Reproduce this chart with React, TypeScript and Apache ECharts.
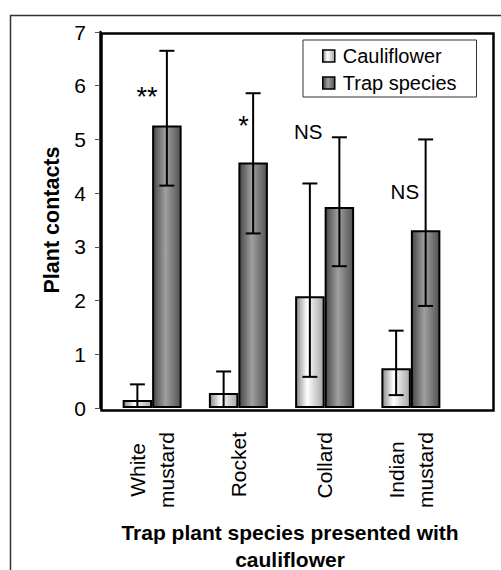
import React, { useEffect, useRef } from 'react';
import * as echarts from 'echarts';

const CATEGORIES = ['White\nmustard', 'Rocket', 'Collard', 'Indian\nmustard'];
const SERIES_NAMES = ['Cauliflower', 'Trap species'];
const CAULIFLOWER = [0.15, 0.28, 2.08, 0.74];
const CAULIFLOWER_UPPER = [0.44, 0.68, 4.18, 1.44];
const CAULIFLOWER_LOWER: (number | null)[] = [null, null, 0.58, 0.24];
const TRAP = [5.26, 4.57, 3.74, 3.31];
const TRAP_UPPER = [6.65, 5.86, 5.04, 5.0];
const TRAP_LOWER: (number | null)[] = [4.14, 3.25, 2.64, 1.9];
const SIG_LABELS = ['**', '*', 'NS', 'NS'];
const SIG_Y = [5.79, 5.25, 5.15, 4.03];
const Y_MIN = 0;
const Y_MAX = 7;
const Y_INTERVAL = 1;
const X_TITLE = 'Trap plant species presented with\ncauliflower';
const Y_TITLE = 'Plant contacts';

const FONT = '"Liberation Sans", Arial, Helvetica, sans-serif';
const BAR_W = 29.5;
const SIG_DX = [-0.06, 0.06, -0.19, -0.07];

const caulGrad = new echarts.graphic.LinearGradient(0, 0, 1, 0, [
  { offset: 0, color: '#8a8a8a' },
  { offset: 0.4, color: '#ffffff' },
  { offset: 1, color: '#a6a6a6' },
]);
const trapGrad = new echarts.graphic.LinearGradient(0, 0, 1, 0, [
  { offset: 0, color: '#474747' },
  { offset: 0.45, color: '#a0a0a0' },
  { offset: 1, color: '#525252' },
]);

function errorRenderer(upper: number[], lower: (number | null)[], side: number) {
  return (params: any, api: any) => {
    const idx = params.dataIndex;
    const i = api.value(0);
    const cx = api.coord([i, 0])[0] + side * (BAR_W / 2);
    const yTop = api.coord([i, upper[idx]])[1];
    const low = lower[idx];
    const yBot = api.coord([i, low == null ? 0 : low])[1];
    const style = { stroke: '#000', lineWidth: 2 };
    const children: any[] = [
      { type: 'line', shape: { x1: cx, y1: yTop, x2: cx, y2: yBot }, style },
      { type: 'line', shape: { x1: cx - 7.5, y1: yTop, x2: cx + 7.5, y2: yTop }, style },
    ];
    if (low != null) {
      children.push({ type: 'line', shape: { x1: cx - 7.5, y1: yBot, x2: cx + 7.5, y2: yBot }, style });
    }
    return { type: 'group', children };
  };
}

export default function App() {
  const ref = useRef<HTMLDivElement>(null);
  useEffect(() => {
    if (!ref.current) return;
    const chart = echarts.init(ref.current, null, { renderer: 'svg' });
    const option: any = {
      animation: false,
      backgroundColor: '#fff',
      textStyle: { fontFamily: FONT },
      grid: { left: 109, right: 47, top: 32, bottom: 162, containLabel: false, outerBoundsMode: 'none' },
      legend: {
        data: SERIES_NAMES,
        orient: 'vertical',
        left: 303,
        top: 40,
        icon: 'rect',
        itemWidth: 12,
        itemHeight: 12,
        itemGap: 7,
        padding: [6, 20, 4, 19],
        borderColor: '#333',
        borderWidth: 1,
        backgroundColor: '#fff',
        itemStyle: { borderColor: '#000', borderWidth: 1.5 },
        textStyle: { fontSize: 20, color: '#000', fontFamily: FONT, lineHeight: 20, padding: [0, 0, 0, 3] },
      },
      xAxis: {
        type: 'category',
        data: CATEGORIES,
        axisLine: { show: false },
        axisTick: { show: false },
        axisLabel: {
          rotate: 90,
          margin: 24,
          color: '#000',
          fontSize: 21,
          fontFamily: FONT,
          lineHeight: 29,
          formatter: (v: string) =>
            v.includes('\n') ? v.split('\n').map((s) => `{c|${s}}`).join('\n') : v,
          rich: { c: { width: 76, align: 'center', fontSize: 21, lineHeight: 29, fontFamily: FONT, color: '#000' } },
        },
        name: X_TITLE,
        nameLocation: 'middle',
        nameGap: 111,
        nameMoveOverlap: false,
        nameTextStyle: { fontSize: 21, fontWeight: 'bold', color: '#000', fontFamily: FONT, lineHeight: 27, padding: [0, 0, 0, 17] },
      },
      yAxis: {
        type: 'value',
        min: Y_MIN,
        max: Y_MAX,
        interval: Y_INTERVAL,
        offset: 9,
        axisLine: { show: true, lineStyle: { color: '#000', width: 2.5 } },
        axisTick: { show: true, length: 5, lineStyle: { color: '#555', width: 1 } },
        axisLabel: { fontSize: 21, margin: 14, color: '#000', fontFamily: FONT },
        splitLine: { show: false },
        name: Y_TITLE,
        nameLocation: 'middle',
        nameGap: 37,
        nameMoveOverlap: false,
        nameTextStyle: { fontSize: 21.5, fontWeight: 'bold', color: '#000', fontFamily: FONT },
      },
      series: [
        {
          name: SERIES_NAMES[0],
          type: 'bar',
          data: CAULIFLOWER,
          barWidth: BAR_W,
          barGap: '0%',
          itemStyle: { color: caulGrad, borderColor: '#000', borderWidth: 2 },
        },
        {
          name: SERIES_NAMES[1],
          type: 'bar',
          data: TRAP,
          barWidth: BAR_W,
          barGap: '0%',
          itemStyle: { color: trapGrad, borderColor: '#000', borderWidth: 2 },
        },
        {
          type: 'custom',
          name: 'errC',
          data: CAULIFLOWER.map((v, i) => [i, v]),
          renderItem: errorRenderer(CAULIFLOWER_UPPER, CAULIFLOWER_LOWER, -1),
          z: 5,
          silent: true,
        },
        {
          type: 'custom',
          name: 'errT',
          data: TRAP.map((v, i) => [i, v]),
          renderItem: errorRenderer(TRAP_UPPER, TRAP_LOWER, 1),
          z: 5,
          silent: true,
        },
        {
          type: 'custom',
          name: 'sig',
          data: SIG_Y.map((v, i) => [i, v]),
          z: 6,
          silent: true,
          renderItem: (params: any, api: any) => {
            const idx = params.dataIndex;
            const i = api.value(0);
            const w = api.size([1, 0])[0];
            const p = api.coord([i, api.value(1)]);
            const isStar = SIG_LABELS[idx].startsWith('*');
            return {
              type: 'text',
              x: p[0] + SIG_DX[idx] * w,
              y: p[1],
              style: {
                text: SIG_LABELS[idx],
                fontSize: isStar ? 27 : 20.5,
                fontFamily: FONT,
                fill: '#000',
                align: 'center',
                verticalAlign: 'middle',
              },
            };
          },
        },
      ],
      graphic: [
        {
          type: 'rect',
          left: 8,
          top: 13,
          shape: { width: 600, height: 600 },
          style: { fill: 'none', stroke: '#333', lineWidth: 1.5 },
          silent: true,
          z: -10,
        },
        {
          type: 'rect',
          left: 99,
          top: 31,
          shape: { width: 392, height: 377 },
          style: { fill: 'none', stroke: '#000', lineWidth: 2.5 },
          silent: true,
          z: 10,
        },
      ],
    };
    chart.setOption(option);
    return () => chart.dispose();
  }, []);
  return <div ref={ref} style={{ position: 'fixed', left: 0, top: 0, width: 501, height: 570 }} />;
}
